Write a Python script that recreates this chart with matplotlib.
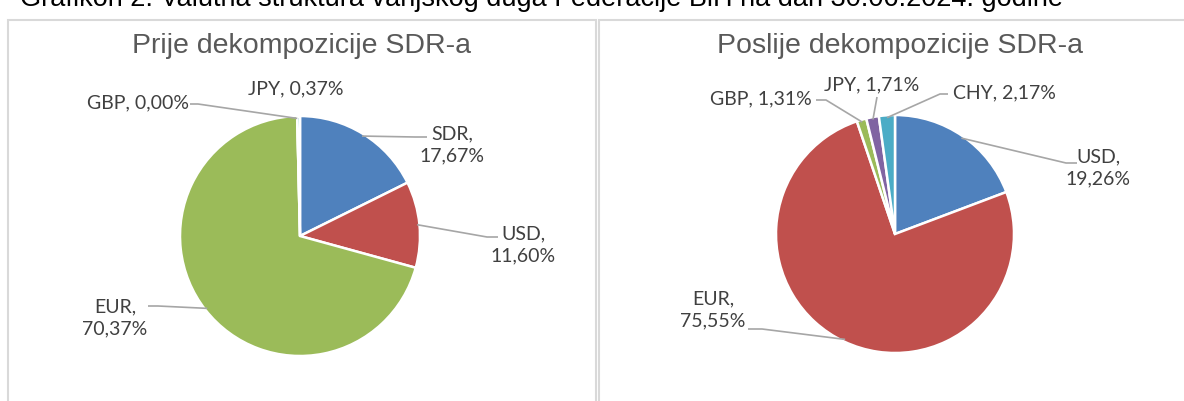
import numpy as np
import matplotlib.pyplot as plt
from matplotlib.patches import Rectangle

W, H = 1184, 401

caption = "Grafikon 2: Valutna struktura vanjskog duga Federacije BiH na dan 30.06.2024. godine"

left_title = "Prije dekompozicije SDR-a"
left_names = ["SDR", "USD", "EUR", "GBP", "JPY"]
left_values = [17.67, 11.60, 70.37, 0.00, 0.37]

right_title = "Poslije dekompozicije SDR-a"
right_names = ["USD", "EUR", "GBP", "JPY", "CHY"]
right_values = [19.26, 75.55, 1.31, 1.71, 2.17]

colors = ["#4F81BD", "#C0504D", "#9BBB59", "#8064A2", "#4BACC6"]

LABEL_COLOR = "#404040"
TITLE_COLOR = "#595959"
LINE_COLOR = "#A6A6A6"
FONT = ["Lato", "DejaVu Sans"]
ARIAL = ["Liberation Sans", "DejaVu Sans"]


def fmt(name, v, two_lines):
    s = f"{v:.2f}".replace(".", ",") + "%"
    return f"{name},\n{s}" if two_lines else f"{name}, {s}"


def Y(y):
    # pixel row (from top) -> data y (from bottom)
    return H - y


fig = plt.figure(figsize=(W / 100, H / 100), dpi=100)
ax = fig.add_axes([0, 0, 1, 1])

# panel frames
for x0, x1 in [(8, 596), (599, 1192)]:
    ax.add_patch(Rectangle((x0, Y(420)), x1 - x0, 420 - 20, fill=False,
                           edgecolor="#D9D9D9", linewidth=1.5, zorder=0))

# panel layout: center, radius, title pos, label positions, leader geometry
panels = [
    dict(title=left_title, names=left_names, values=left_values,
         center=(300, 236), r=120, title_xy=(301, 46),
         text=[(452, 145, True), (523, 245, True), (115, 318, True),
               (138, 103, False), (296, 89, False)],
         lead=[((415, 137), (427, 137)), ((487, 237), (498, 237)),
               ((158, 306), (148, 306)), ((198, 104), (190, 104)), None]),
    dict(title=right_title, names=right_names, values=right_values,
         center=(895, 234), r=119, title_xy=(900, 46),
         text=[(1098, 168, True), (713, 310, True), (761, 99, False),
               (872, 85, False), (1004, 93, False)],
         lead=[((1066, 163), (1077, 163)), ((762, 329), (748, 329)),
               ((826, 100), (816, 100)), ((877, 97), (877, 97)),
               ((940, 94), (948, 94))]),
]

for p in panels:
    cx, cy = p["center"]
    wedges, _ = ax.pie(p["values"], colors=colors, startangle=90,
                       counterclock=False, center=(cx, Y(cy)), radius=p["r"],
                       wedgeprops=dict(edgecolor="white", linewidth=1.8))
    ax.text(p["title_xy"][0], Y(p["title_xy"][1]), p["title"], ha="center",
            va="center", fontsize=20.5, color=TITLE_COLOR, family=ARIAL)
    for w, name, v, (tx, ty, two), lead in zip(wedges, p["names"], p["values"],
                                               p["text"], p["lead"]):
        ax.text(tx, Y(ty), fmt(name, v, two), ha="center", va="center",
                fontsize=14, color=LABEL_COLOR, family=FONT,
                linespacing=1.4)
        if lead is None:
            continue
        ang = np.deg2rad((w.theta1 + w.theta2) / 2)
        sx = cx + p["r"] * 0.98 * np.cos(ang)
        sy = Y(cy) + p["r"] * 0.98 * np.sin(ang)
        (ex, ey), (fx, fy) = lead
        ax.plot([sx, ex, fx], [sy, Y(ey), Y(fy)], color=LINE_COLOR,
                linewidth=1.2, solid_capstyle="butt", zorder=3)

ax.set_xlim(0, W)
ax.set_ylim(0, H)
ax.set_aspect("auto")
ax.axis("off")

fig.text(20 / W, 1 - 6 / H, caption, ha="left", va="baseline", fontsize=19.5,
         color="black", family=ARIAL)

fig.savefig("out.png", dpi=100)
